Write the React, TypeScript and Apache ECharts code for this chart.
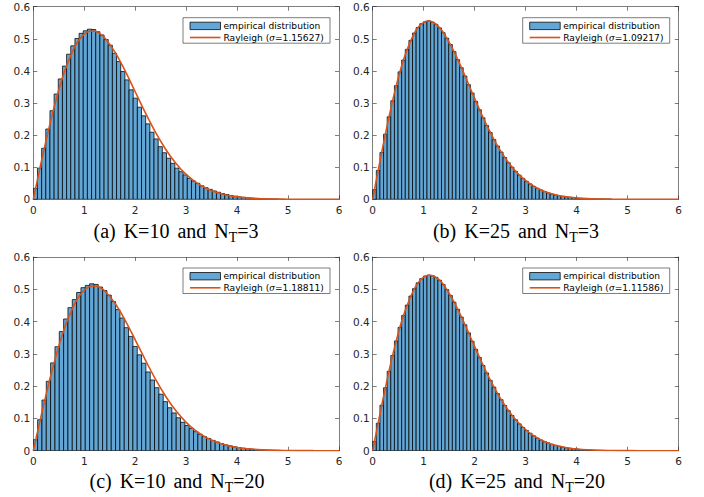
import React, { useEffect, useRef } from "react";
import * as echarts from "echarts";

// ---------- data ----------
const X_MIN = 0;
const X_MAX = 6;
const X_STEP = 1;
const Y_MIN = 0;
const Y_MAX = 0.6;
const Y_STEP = 0.1;

const PANEL_LABELS = ["(a)", "(b)", "(c)", "(d)"];
const K_VALUES = ["10", "25", "10", "25"];
const NT_VALUES = ["3", "3", "20", "20"];
const SIGMAS = ["1.15627", "1.09217", "1.18811", "1.11586"];
const BIN_WIDTHS = [0.0817, 0.071, 0.085, 0.071];

const HIST_A = [0.034, 0.097, 0.159, 0.219, 0.276, 0.328, 0.375, 0.415, 0.452, 0.478, 0.501, 0.517, 0.525, 0.53, 0.529, 0.522, 0.512, 0.498, 0.48, 0.455, 0.429, 0.398, 0.372, 0.341, 0.315, 0.287, 0.26, 0.235, 0.209, 0.188, 0.164, 0.145, 0.128, 0.112, 0.097, 0.086, 0.076, 0.065, 0.057, 0.05, 0.042, 0.036, 0.031, 0.026, 0.022, 0.018, 0.015, 0.012, 0.0095, 0.0075, 0.006, 0.0045, 0.0035, 0.0027, 0.002, 0.0015, 0.001, 0.0008, 0.0005];
const HIST_B = [0.03, 0.09, 0.146, 0.203, 0.257, 0.307, 0.354, 0.397, 0.434, 0.467, 0.495, 0.518, 0.535, 0.547, 0.553, 0.556, 0.552, 0.545, 0.534, 0.519, 0.502, 0.482, 0.46, 0.435, 0.41, 0.384, 0.357, 0.331, 0.305, 0.279, 0.254, 0.23, 0.208, 0.186, 0.166, 0.147, 0.13, 0.114, 0.1, 0.087, 0.075, 0.065, 0.056, 0.048, 0.04, 0.034, 0.029, 0.024, 0.02, 0.0166, 0.0137, 0.0113, 0.0092, 0.0075, 0.0061, 0.0049, 0.0039, 0.0031, 0.0025, 0.002, 0.0015, 0.0012, 0.0009, 0.0007, 0.0005, 0.0004];
const HIST_C = [0.034, 0.096, 0.157, 0.215, 0.272, 0.322, 0.369, 0.408, 0.443, 0.468, 0.49, 0.505, 0.512, 0.517, 0.515, 0.507, 0.496, 0.482, 0.462, 0.437, 0.411, 0.381, 0.354, 0.323, 0.297, 0.271, 0.244, 0.219, 0.195, 0.175, 0.152, 0.133, 0.117, 0.102, 0.088, 0.078, 0.069, 0.059, 0.051, 0.044, 0.038, 0.032, 0.027, 0.022, 0.018, 0.015, 0.012, 0.0097, 0.0078, 0.0062, 0.0049, 0.0038, 0.003, 0.0023, 0.0017, 0.0013, 0.001, 0.0007, 0.0005, 0.0003];
const HIST_D = [0.029, 0.085, 0.141, 0.195, 0.246, 0.295, 0.34, 0.382, 0.419, 0.451, 0.479, 0.502, 0.52, 0.533, 0.541, 0.544, 0.542, 0.537, 0.528, 0.515, 0.499, 0.481, 0.46, 0.438, 0.414, 0.39, 0.365, 0.339, 0.314, 0.289, 0.264, 0.241, 0.218, 0.197, 0.177, 0.158, 0.14, 0.124, 0.109, 0.096, 0.083, 0.072, 0.063, 0.054, 0.046, 0.039, 0.033, 0.028, 0.024, 0.0198, 0.0165, 0.0137, 0.0113, 0.0093, 0.0076, 0.0062, 0.005, 0.004, 0.0032, 0.0026, 0.002, 0.0016, 0.0013, 0.001, 0.0008, 0.0006];

const CURVE_X = [0, 0.1, 0.2, 0.4, 0.6, 0.8, 0.9, 1.0, 1.1, 1.2, 1.3, 1.4, 1.6, 1.8, 2.0, 2.2, 2.4, 2.6, 2.8, 3.0, 3.2, 3.4, 3.6, 3.8, 4.0, 4.2, 4.4, 4.6, 4.8, 5.0, 5.5, 6.0];
const RAYLEIGH_A = [0, 0.0745, 0.1474, 0.2818, 0.3923, 0.4711, 0.4973, 0.5146, 0.5234, 0.5238, 0.5168, 0.5032, 0.4594, 0.4008, 0.3351, 0.2693, 0.2082, 0.1552, 0.1116, 0.0775, 0.052, 0.0337, 0.0211, 0.0128, 0.0075, 0.0043, 0.0024, 0.0013, 0.0007, 0.0003, 0, 0];
const RAYLEIGH_B = [0, 0.0835, 0.1649, 0.3136, 0.4325, 0.5129, 0.5373, 0.5513, 0.5553, 0.5501, 0.5366, 0.5161, 0.4586, 0.3881, 0.3136, 0.2425, 0.1799, 0.1282, 0.0878, 0.0578, 0.0367, 0.0224, 0.0132, 0.0075, 0.0041, 0.0021, 0.001, 0.0005, 0.0002, 0.0001, 0, 0];
const RAYLEIGH_C = [0, 0.0706, 0.1397, 0.2678, 0.3742, 0.4516, 0.4786, 0.4971, 0.5076, 0.5105, 0.5061, 0.4954, 0.4577, 0.4048, 0.3436, 0.2807, 0.221, 0.168, 0.1234, 0.0877, 0.0603, 0.0401, 0.0259, 0.0162, 0.0098, 0.0058, 0.0033, 0.0018, 0.001, 0.0005, 0.0001, 0];
const RAYLEIGH_D = [0, 0.08, 0.1581, 0.3013, 0.417, 0.4969, 0.5221, 0.5375, 0.5435, 0.5406, 0.5297, 0.5118, 0.4597, 0.3935, 0.3222, 0.253, 0.1908, 0.1383, 0.0965, 0.0649, 0.0421, 0.0263, 0.0159, 0.0093, 0.0052, 0.0028, 0.0014, 0.0007, 0.0003, 0.0002, 0, 0];

const HISTS = [HIST_A, HIST_B, HIST_C, HIST_D];
const CURVES = [RAYLEIGH_A, RAYLEIGH_B, RAYLEIGH_C, RAYLEIGH_D];

// ---------- styles / layout ----------
const BAR_FILL = "#62A6D6";
const BAR_EDGE = "#000000";
const CURVE_COLOR = "#D95319";
const AXIS_COLOR = "#262626";
const SANS = "DejaVu Sans";
const SERIF = "Liberation Serif";

const LAYOUT = [
  { left: 33.3, top: 6.7, width: 305.7, height: 192.6, capX: 176, capY: 231 },
  { left: 372.7, top: 6.7, width: 306, height: 192.6, capX: 516, capY: 231 },
  { left: 33.3, top: 257, width: 305.7, height: 193.7, capX: 177, capY: 481 },
  { left: 372.7, top: 257, width: 306, height: 193.7, capX: 517, capY: 481 },
];

function axisCommon(show: boolean) {
  return {
    axisLine: { show: true, onZero: false, lineStyle: { color: AXIS_COLOR, width: 0.6 } },
    axisTick: { show: true, inside: true, length: 4, lineStyle: { color: AXIS_COLOR, width: 0.6 } },
    splitLine: { show: false },
    axisLabel: show
      ? { show: true, color: AXIS_COLOR, fontFamily: SANS, fontSize: 10.5 }
      : { show: false },
  };
}

function buildOption() {
  const grid: any[] = [];
  const xAxis: any[] = [];
  const yAxis: any[] = [];
  const series: any[] = [];
  const graphic: any[] = [];

  LAYOUT.forEach((L, p) => {
    grid.push({ left: L.left, top: L.top, width: L.width, height: L.height, containLabel: false });
    const xb: any = { type: "value", gridIndex: p, min: X_MIN, max: X_MAX, interval: X_STEP, position: "bottom", ...axisCommon(true) };
    xb.axisLabel.margin = 5;
    const xt: any = { type: "value", gridIndex: p, min: X_MIN, max: X_MAX, interval: X_STEP, position: "top", ...axisCommon(false) };
    const yl: any = { type: "value", gridIndex: p, min: Y_MIN, max: Y_MAX, interval: Y_STEP, position: "left", ...axisCommon(true) };
    yl.axisLabel.margin = 3;
    const yr: any = { type: "value", gridIndex: p, min: Y_MIN, max: Y_MAX, interval: Y_STEP, position: "right", ...axisCommon(false) };
    xAxis.push(xb, xt);
    yAxis.push(yl, yr);

    const w = BIN_WIDTHS[p];
    const histData = HISTS[p].map((h, i) => [i * w, (i + 1) * w, h]);
    series.push({
      type: "custom",
      name: "empirical distribution",
      xAxisIndex: p * 2,
      yAxisIndex: p * 2,
      clip: true,
      encode: { x: [0, 1], y: 2 },
      data: histData,
      renderItem: (params: any, api: any) => {
        const a = api.coord([api.value(0), api.value(2)]);
        const b = api.coord([api.value(1), 0]);
        return {
          type: "rect",
          shape: { x: a[0], y: a[1], width: b[0] - a[0], height: b[1] - a[1] },
          style: { fill: BAR_FILL, stroke: BAR_EDGE, lineWidth: 0.75 },
        };
      },
    });
    series.push({
      type: "line",
      name: "Rayleigh (σ=" + SIGMAS[p] + ")",
      xAxisIndex: p * 2,
      yAxisIndex: p * 2,
      data: CURVE_X.map((x, i) => [x, CURVES[p][i]]),
      smooth: 0.35,
      showSymbol: false,
      symbol: "none",
      lineStyle: { color: CURVE_COLOR, width: 1.6 },
      z: 3,
    });

    // caption
    graphic.push({
      type: "text",
      x: L.capX,
      y: L.capY,
      style: {
        text: `{m|${PANEL_LABELS[p]}}{g| }{m|K=${K_VALUES[p]}}{g| }{m|and}{g| }{m|N}{s|T}{m|=${NT_VALUES[p]}}`,
        align: "center",
        verticalAlign: "middle",
        rich: {
          m: { fontFamily: SERIF, fontSize: 20, lineHeight: 26, fill: "#000" },
          g: { fontFamily: SERIF, fontSize: 20, lineHeight: 26, width: 8, fill: "#000" },
          s: { fontFamily: SERIF, fontSize: 14, lineHeight: 12, verticalAlign: "bottom", fill: "#000" },
        },
      },
    });

    // legend
    const boxRight = L.left + L.width - 9;
    const boxLeft = boxRight - 147;
    const boxTop = L.top + 11;
    const row1 = boxTop + 8.2;
    const row2 = boxTop + 19.8;
    graphic.push({
      type: "group",
      children: [
        {
          type: "rect",
          shape: { x: boxLeft, y: boxTop, width: boxRight - boxLeft, height: 25.5 },
          style: { fill: "#fff", stroke: AXIS_COLOR, lineWidth: 0.6 },
          z: 10,
        },
        {
          type: "rect",
          shape: { x: boxLeft + 7, y: row1 - 3.7, width: 30.5, height: 7.4 },
          style: { fill: BAR_FILL, stroke: BAR_EDGE, lineWidth: 0.75 },
          z: 11,
        },
        {
          type: "line",
          shape: { x1: boxLeft + 7, y1: row2, x2: boxLeft + 37.5, y2: row2 },
          style: { stroke: CURVE_COLOR, lineWidth: 1.6 },
          z: 11,
        },
        {
          type: "text",
          x: boxLeft + 40.5,
          y: row1,
          style: { text: "empirical distribution", fontFamily: SANS, fontSize: 9.1, fill: "#000", verticalAlign: "middle", align: "left" },
          z: 11,
        },
        {
          type: "text",
          x: boxLeft + 40.5,
          y: row2,
          style: {
            text: `{n|Rayleigh (}{i|σ}{n|=${SIGMAS[p]})}`,
            verticalAlign: "middle",
            align: "left",
            rich: {
              n: { fontFamily: SANS, fontSize: 9.1, fill: "#000" },
              i: { fontFamily: "DejaVu Serif", fontStyle: "italic", fontSize: 8.5, fill: "#000" },
            },
          },
          z: 11,
        },
      ],
    });
  });

  return {
    animation: false,
    backgroundColor: "#ffffff",
    grid,
    xAxis,
    yAxis,
    series,
    graphic,
  };
}

export default function App() {
  const ref = useRef<HTMLDivElement>(null);
  useEffect(() => {
    if (!ref.current) return;
    const chart = echarts.init(ref.current, undefined, { renderer: "svg" });
    chart.setOption(buildOption() as any);
    return () => chart.dispose();
  }, []);
  return (
    <div
      ref={ref}
      style={{ position: "fixed", left: 0, top: 0, width: 704, height: 497, background: "#fff" }}
    />
  );
}
